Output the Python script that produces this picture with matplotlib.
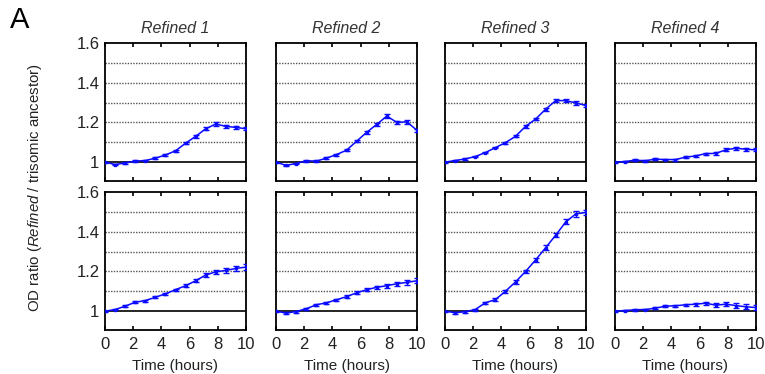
import numpy as np
import matplotlib
matplotlib.use("Agg")
import matplotlib.pyplot as plt

plt.rcParams['font.family'] = ['Liberation Sans', 'DejaVu Sans']
plt.rcParams['mathtext.fontset'] = 'custom'
plt.rcParams['mathtext.it'] = 'Liberation Sans:italic'
plt.rcParams['mathtext.rm'] = 'Liberation Sans'

# time points (hours)
time_h = np.linspace(0, 10, 15)

titles = ["Refined 1", "Refined 2", "Refined 3", "Refined 4"]

# top row
top_r1 = [1.00, 0.988, 0.996, 1.005, 1.008, 1.02, 1.036, 1.057, 1.095, 1.13, 1.168, 1.192, 1.18, 1.175, 1.168]
top_r2 = [1.00, 0.984, 0.993, 1.007, 1.005, 1.02, 1.038, 1.06, 1.105, 1.15, 1.19, 1.232, 1.20, 1.203, 1.16]
top_r3 = [1.00, 1.008, 1.016, 1.028, 1.048, 1.073, 1.098, 1.13, 1.18, 1.217, 1.267, 1.31, 1.31, 1.298, 1.285]
top_r4 = [1.00, 1.003, 1.01, 1.007, 1.015, 1.013, 1.013, 1.025, 1.031, 1.043, 1.044, 1.062, 1.07, 1.065, 1.062]
top_err = [
    [0.003, 0.004, 0.004, 0.004, 0.004, 0.004, 0.005, 0.005, 0.006, 0.006, 0.007, 0.008, 0.008, 0.008, 0.008],
    [0.003, 0.004, 0.004, 0.004, 0.004, 0.004, 0.005, 0.005, 0.006, 0.006, 0.007, 0.008, 0.009, 0.009, 0.009],
    [0.003, 0.004, 0.004, 0.004, 0.004, 0.004, 0.005, 0.005, 0.006, 0.006, 0.007, 0.008, 0.008, 0.008, 0.008],
    [0.003, 0.004, 0.004, 0.004, 0.004, 0.004, 0.005, 0.005, 0.005, 0.005, 0.006, 0.007, 0.008, 0.008, 0.008],
]

# bottom row
bot_r1 = [1.00, 1.008, 1.025, 1.045, 1.053, 1.07, 1.087, 1.108, 1.128, 1.153, 1.182, 1.198, 1.205, 1.215, 1.222]
bot_r2 = [1.00, 0.99, 0.998, 1.012, 1.032, 1.042, 1.057, 1.073, 1.092, 1.108, 1.12, 1.128, 1.138, 1.145, 1.153]
bot_r3 = [1.00, 0.992, 0.997, 1.008, 1.042, 1.058, 1.10, 1.147, 1.20, 1.258, 1.32, 1.383, 1.45, 1.49, 1.497]
bot_r4 = [1.00, 1.003, 1.007, 1.008, 1.015, 1.025, 1.027, 1.032, 1.035, 1.04, 1.03, 1.035, 1.028, 1.022, 1.018]
bot_err = [
    [0.003, 0.004, 0.005, 0.005, 0.005, 0.005, 0.006, 0.006, 0.007, 0.008, 0.009, 0.010, 0.011, 0.012, 0.013],
    [0.003, 0.004, 0.005, 0.005, 0.005, 0.005, 0.006, 0.006, 0.007, 0.008, 0.009, 0.010, 0.011, 0.012, 0.013],
    [0.003, 0.004, 0.005, 0.005, 0.006, 0.006, 0.007, 0.008, 0.009, 0.010, 0.011, 0.012, 0.013, 0.014, 0.014],
    [0.003, 0.004, 0.004, 0.004, 0.005, 0.005, 0.006, 0.006, 0.007, 0.008, 0.009, 0.010, 0.011, 0.012, 0.012],
]

top_rows = [top_r1, top_r2, top_r3, top_r4]
bot_rows = [bot_r1, bot_r2, bot_r3, bot_r4]

fig = plt.figure(figsize=(7.65, 3.74), dpi=100)
W, H = 765, 374
col_left = [105, 276, 445, 615]
ax_w = 141
row_top = [43, 192]
ax_h = 138

label_col = '#222222'

for r, (rows, errs) in enumerate([(top_rows, top_err), (bot_rows, bot_err)]):
    for c in range(4):
        ax = fig.add_axes([col_left[c] / W, 1 - (row_top[r] + ax_h) / H, ax_w / W, ax_h / H])
        for yg in [1.1, 1.2, 1.3, 1.4, 1.5]:
            ax.axhline(yg, color='#555555', lw=1.0, ls=(0, (1.0, 1.0)), zorder=1)
        ax.axhline(1.0, color='black', lw=1.2, zorder=1)
        ax.errorbar(time_h, rows[c], yerr=errs[c], color='#0a0aff', lw=1.1,
                    marker='s', ms=1.6, capsize=2.0, elinewidth=0.9, zorder=3)
        ax.set_xlim(0, 10)
        ax.set_ylim(0.905, 1.6)
        ax.set_xticks([0, 2, 4, 6, 8, 10])
        ax.set_yticks([1, 1.2, 1.4, 1.6])
        ax.tick_params(axis='x', direction='in', top=True, length=3, width=1.2,
                       labelsize=12, labelcolor=label_col, pad=5)
        ax.tick_params(axis='y', direction='in', length=0, labelsize=12,
                       labelcolor=label_col, pad=4)
        for sp in ax.spines.values():
            sp.set_linewidth(1.3)
        if c == 0:
            ax.set_yticklabels(['1', '1.2', '1.4', '1.6'])
        else:
            ax.set_yticklabels([])
        if r == 1:
            ax.set_xticklabels(['0', '2', '4', '6', '8', '10'])
            ax.set_xlabel('Time (hours)', fontsize=11, color=label_col, labelpad=5)
        else:
            ax.set_xticklabels([])
            ax.set_title(titles[c], fontsize=11.5, style='italic', color='#333333', pad=7)

fig.text(35 / W, 1 - 188 / H, r'OD ratio ($\it{Refined}$ / trisomic ancestor)',
         rotation=90, ha='center', va='center', fontsize=10.8, color=label_col)
fig.text(10 / W, 1 - 20 / H, 'A', fontsize=21, ha='left', va='center', color='black')

fig.savefig('out.png', dpi=100)
